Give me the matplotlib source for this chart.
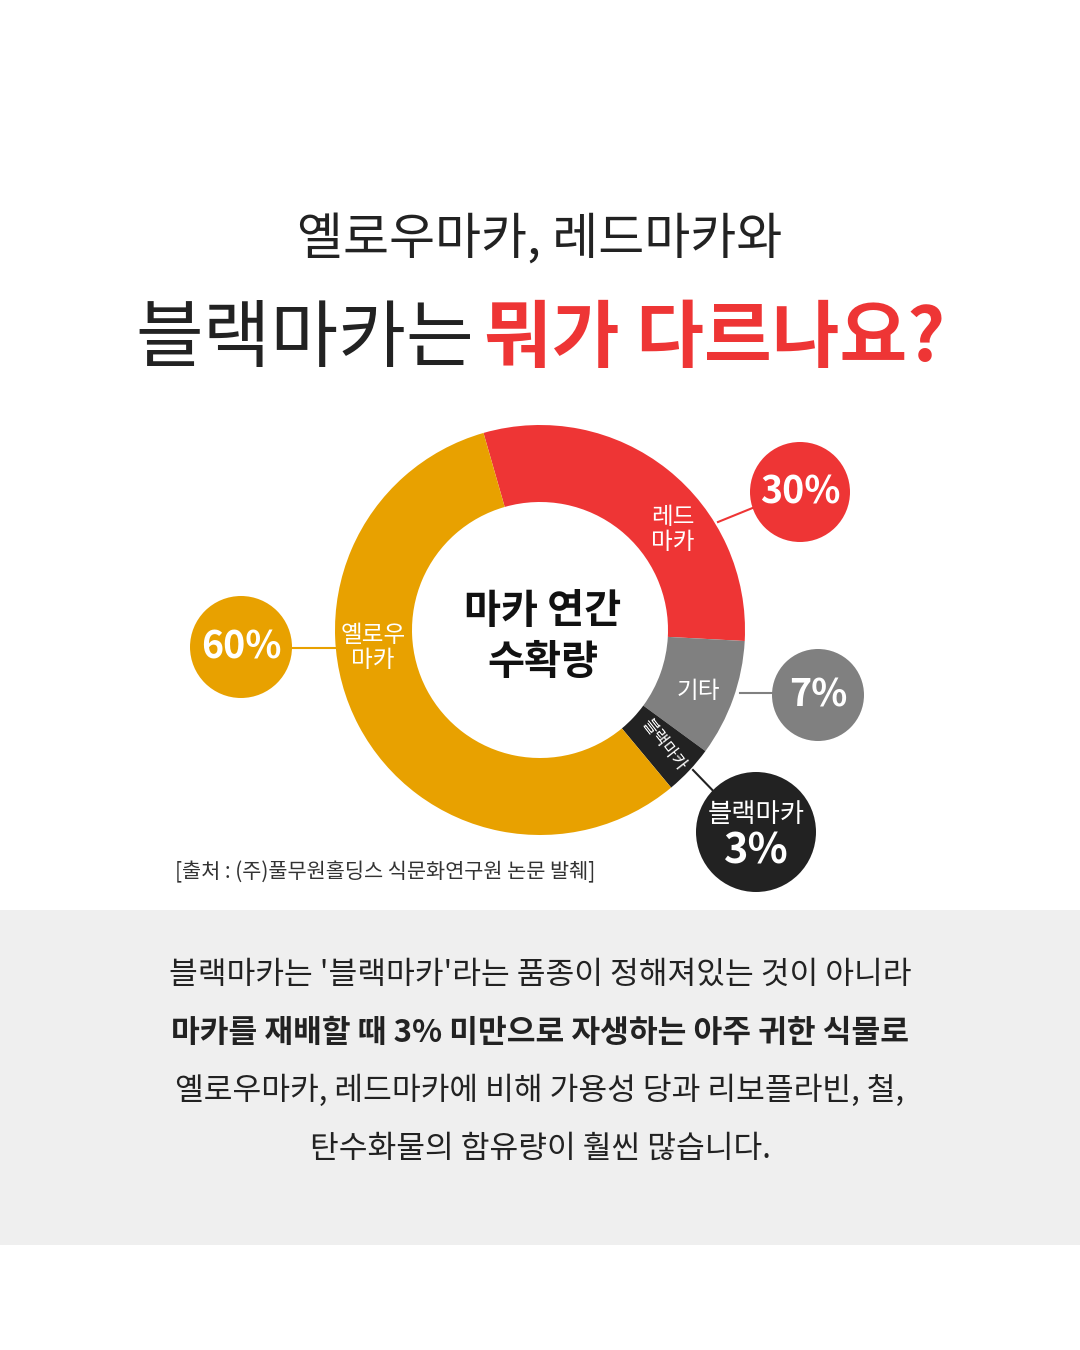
import matplotlib.pyplot as plt
from matplotlib.patches import Circle, Rectangle

plt.rcParams['font.family'] = ['Noto Sans CJK KR', 'DejaVu Sans']

H = 1350
labels = ["레드\n마카", "기타", "블랙마카", "옐로우\n마카"]
shares = [30, 7, 3, 60]
# arc sizes as drawn in the reference (small slices are exaggerated there)
arc_shares = [30.3, 9.2, 3.9, 56.6]
colors = ["#ee3535", "#808080", "#222222", "#e8a100"]
pct_text = ["30%", "7%", "블랙마카\n3%", "60%"]

body = [
    ("블랙마카는 '블랙마카'라는 품종이 정해져있는 것이 아니라", "normal"),
    ("마카를 재배할 때 3% 미만으로 자생하는 아주 귀한 식물로", "bold"),
    ("옐로우마카, 레드마카에 비해 가용성 당과 리보플라빈, 철,", "normal"),
    ("탄수화물의 함유량이 훨씬 많습니다.", "normal"),
]

fig = plt.figure(figsize=(10.8, 13.5), dpi=100)
ax = fig.add_axes([0, 0, 1, 1])

def Y(y):
    return H - y

# titles
ax.text(540, Y(240), "옐로우마카, 레드마카와", ha='center', va='center',
        fontsize=36, weight='light', color='#222')
ax.text(305, Y(340), "블랙마카는", ha='center', va='center',
        fontsize=53, weight='light', color='#222')
ax.text(715, Y(340), "뭐가 다르나요?", ha='center', va='center',
        fontsize=53, weight='bold', color='#ee3535')

# donut
cx, cy = 540, Y(630)
ax.pie(arc_shares, colors=colors, startangle=106, counterclock=False,
       center=(cx, cy), radius=205,
       wedgeprops=dict(width=77, linewidth=0), frame=True)
ax.set_xlim(0, 1080)
ax.set_ylim(0, H)
ax.set_aspect('equal')
ax.axis('off')

ax.text(543, Y(637), "마카 연간\n수확량", ha='center', va='center',
        fontsize=29, weight='bold', color='#111', linespacing=1.3)

ax.text(673, Y(530), labels[0], ha='center', va='center', fontsize=17,
        color='white', linespacing=1.1)
ax.text(698, Y(692), labels[1], ha='center', va='center', fontsize=17,
        color='white')
ax.text(663, Y(745), labels[2], ha='center', va='center', fontsize=12,
        color='white', rotation=-52)
ax.text(373, Y(648), labels[3], ha='center', va='center', fontsize=17,
        color='white', linespacing=1.1)

# callouts
callouts = [
    ((800, 492), 50, (718, 522), (755, 507)),
    ((818, 695), 46, (740, 693), (772, 693)),
    ((756, 832), 60, (693, 770), (722, 800)),
    ((241, 647), 51, (290, 648), (335, 648)),
]
for i, ((x, y), r, p0, p1) in enumerate(callouts):
    ax.plot([p0[0], p1[0]], [Y(p0[1]), Y(p1[1])], color=colors[i], lw=1.5)
    ax.add_patch(Circle((x, Y(y)), r, color=colors[i], lw=0))
    if i == 2:
        ax.text(x, Y(y) + 17, "블랙마카", ha='center', va='center',
                fontsize=19, color='white')
        ax.text(x, Y(y) - 20, "3%", ha='center', va='center',
                fontsize=30, weight='bold', color='white')
    else:
        ax.text(x, Y(y), pct_text[i], ha='center', va='center',
                fontsize=27, weight='bold', color='white')

ax.text(175, Y(872), "[출처 : (주)풀무원홀딩스 식문화연구원 논문 발췌]", ha='left',
        va='center', fontsize=15, color='#333')

# bottom panel
ax.add_patch(Rectangle((0, Y(1245)), 1080, 335, color='#efefef', lw=0))
for k, (line, w) in enumerate(body):
    ax.text(540, Y(975 + k * 58), line, ha='center', va='center',
            fontsize=22.5, weight=w, color='#222')

fig.savefig("out.png", dpi=100, facecolor='white')
